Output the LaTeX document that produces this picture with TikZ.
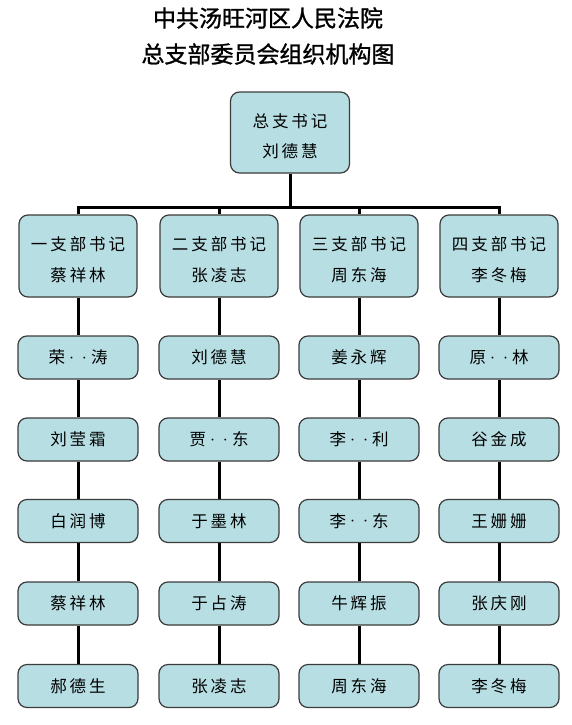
\documentclass[tikz,border=0pt]{standalone}
\usepackage{fontspec}
\newfontfamily\cjk[LetterSpace=18]{Noto Sans CJK SC}
\newfontfamily\cjktitle[FakeBold=1.2]{Noto Sans CJK SC}
\definecolor{boxfill}{HTML}{B7DEE3}
\definecolor{boxline}{HTML}{3C3C3C}
\newcommand\twol[2]{\raisebox{-4pt}[\height][\depth]{\begin{tabular}{@{}c@{}}#1\\#2\end{tabular}}}
\newcommand\dd{{\fontsize{9}{9}\selectfont\kern2pt\raisebox{2.5pt}{·}\kern4pt\raisebox{2.5pt}{·}\kern2pt}}
\begin{document}
\begin{tikzpicture}[x=1pt,y=-1pt,
  box/.style={draw=boxline, fill=boxfill, rounded corners=9pt, line width=1.2pt,
    font=\cjk\fontsize{16.5}{30.5}\selectfont, align=center, inner sep=0pt},
  topbox/.style={box, minimum width=119pt, minimum height=81pt},
  secbox/.style={box, minimum width=118pt, minimum height=82pt},
  membox/.style={box, minimum width=120pt, minimum height=43pt},
  conn/.style={line width=3pt, black},
  ttl/.style={font=\cjktitle\fontsize{23}{23}\selectfont}]
\useasboundingbox (0,0) rectangle (572,725);
\fill[white] (0,0) rectangle (572,725);

\node[ttl] (t1) at (268,18) {中共汤旺河区人民法院};
\node[ttl] (t2) at (268,54) {总支部委员会组织机构图};

\node[topbox] (top) at (290,132.5) {\twol{总支书记}{刘德慧}};

\node[secbox] (s1) at (78,256) {\twol{一支部书记}{蔡祥林}};
\node[secbox] (s2) at (219,256) {\twol{二支部书记}{张凌志}};
\node[secbox] (s3) at (359,256) {\twol{三支部书记}{周东海}};
\node[secbox] (s4) at (499,256) {\twol{四支部书记}{李冬梅}};

\coordinate (bar) at (290,207);
\draw[conn] (top.south) -- (bar);
\draw[conn, line join=miter] (s1.north) -- (s1.north |- bar) -- (s4.north |- bar) -- (s4.north);
\draw[conn] (s2.north) -- (s2.north |- bar);
\draw[conn] (s3.north) -- (s3.north |- bar);

% column 1
\node[membox] (a1) at (78,357.5) {荣\dd 涛};
\node[membox] (a2) at (78,439.5) {刘莹霜};
\node[membox] (a3) at (78,521) {白润博};
\node[membox] (a4) at (78,603.5) {蔡祥林};
\node[membox] (a5) at (78,686) {郝德生};
% column 2
\node[membox] (b1) at (219,357.5) {刘德慧};
\node[membox] (b2) at (219,439.5) {贾\dd 东};
\node[membox] (b3) at (219,521) {于墨林};
\node[membox] (b4) at (219,603.5) {于占涛};
\node[membox] (b5) at (219,686) {张凌志};
% column 3
\node[membox] (c1) at (359,357.5) {姜永辉};
\node[membox] (c2) at (359,439.5) {李\dd 利};
\node[membox] (c3) at (359,521) {李\dd 东};
\node[membox] (c4) at (359,603.5) {牛辉振};
\node[membox] (c5) at (359,686) {周东海};
% column 4
\node[membox] (d1) at (499,357.5) {原\dd 林};
\node[membox] (d2) at (499,439.5) {谷金成};
\node[membox] (d3) at (499,521) {王姗姗};
\node[membox] (d4) at (499,603.5) {张庆刚};
\node[membox] (d5) at (499,686) {李冬梅};

\foreach \c/\s in {a/s1,b/s2,c/s3,d/s4}{
  \draw[conn] (\s.south) -- (\c1.north);
  \draw[conn] (\c1.south) -- (\c2.north);
  \draw[conn] (\c2.south) -- (\c3.north);
  \draw[conn] (\c3.south) -- (\c4.north);
  \draw[conn] (\c4.south) -- (\c5.north);
}
\end{tikzpicture}
\end{document}
